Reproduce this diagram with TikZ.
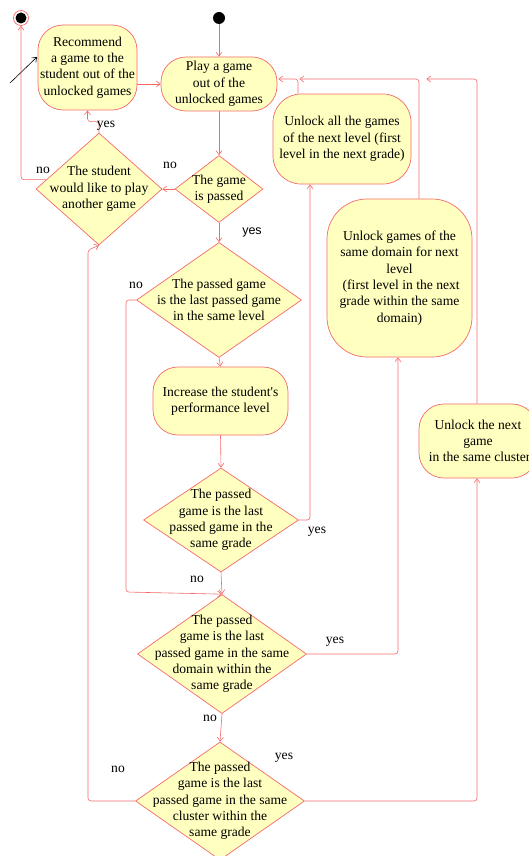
\documentclass[tikz,border=0pt]{standalone}
\usepackage{fontspec}
\setmainfont{Liberation Serif}
\newfontfamily\lsans{Liberation Sans}
\usetikzlibrary{shapes.geometric,arrows.meta,calc}
\definecolor{lred}{RGB}{245,105,105}
\definecolor{lyel}{RGB}{255,255,192}
\begin{document}
\begin{tikzpicture}[x=1pt,y=-1pt,
  every node/.style={font=\fontsize{13.6}{16.3}\selectfont},
  act/.style={draw=lred,fill=lyel,line width=0.7pt,align=center,inner sep=0pt},
  dia/.style={draw=lred,fill=lyel,line width=0.7pt,diamond,inner sep=0pt,minimum width=#1},
  dtext/.style={align=center,inner sep=0pt},
  arr/.style={draw=lred,line width=0.6pt,-{Straight Barb[length=4pt,width=6pt]},rounded corners=3pt},
  lab/.style={inner sep=0pt}]
\useasboundingbox (0,0) rectangle (529,856);
% start / end
\node[circle,fill=black,minimum size=12pt,inner sep=0pt] (start) at (219,18) {};
\node[circle,draw=lred,fill=white,line width=0.7pt,minimum size=15pt,inner sep=0pt] (endst) at (21,18) {};
\fill[black] (endst.center) circle (5.5pt);
% activities
\node[act,rounded corners=25pt,minimum width=99pt,minimum height=85pt] (rec) at (87.5,67.5)
  {Recommend\\a game to the\\student out of the\\unlocked games};
\node[act,rounded corners=25pt,minimum width=116pt,minimum height=54pt] (play) at (219,84)
  {Play a game\\out of the\\unlocked games};
\node[act,rounded corners=28pt,minimum width=138pt,minimum height=90pt] (uall) at (342,139)
  {Unlock all the games\\of the next level (first\\level in the next grade)};
\node[act,rounded corners=40pt,minimum width=145pt,minimum height=158pt] (udom) at (399.5,278)
  {Unlock games of the\\same domain for next\\level\\ \ (first level in the next\\grade within the same\\domain)};
\node[act,rounded corners=25pt,minimum width=118pt,minimum height=74pt] (uclu) at (478,441)
  {Unlock the next\\game\\ \ in the same cluster};
\node[act,rounded corners=25pt,minimum width=135pt,minimum height=68pt] (inc) at (220.5,401)
  {Increase the student\textquotesingle s\\performance level};
% decisions
\node[dia=88pt,minimum height=67pt] (dgame) at (219,189) {};
\node[dtext] (tgame) at (dgame) {The game\\is passed};
\node[dia=126pt,minimum height=112pt] (dstud) at (99,189) {};
\node[dtext] (tstud) at (dstud) {The student\\would like to play\\another game};
\node[dia=165pt,minimum height=115pt] (d3) at (219,300) {};
\node[dtext] (t3) at (d3) {The passed game\\is the last passed game\\in the same level};
\node[dia=155pt,minimum height=104pt] (d4) at (221,520) {};
\node[dtext] (t4) at (d4) {The passed\\game is the last\\passed game in the\\same grade};
\node[dia=169pt,minimum height=119pt] (d5) at (222,654) {};
\node[dtext] (t5) at (d5) {The passed\\game is the last\\passed game in the same\\domain within the\\same grade};
\node[dia=169pt,minimum height=118pt] (d6) at (220,801) {};
\node[dtext] (t6) at (d6) {The passed\\game is the last\\passed game in the same\\cluster within the\\same grade};
% coordinates for bends
\coordinate (c1) at (88,250);
\coordinate (c2) at (126,592);
\coordinate (free) at (10,83);
\coordinate (freeend) at (37,57);
% connectors
\draw[-{Straight Barb[length=4pt,width=6pt]},line width=0.6pt,black] (free) -- (freeend);
\draw[arr] (start) -- (play.north);
\draw[arr] (rec.east |- play.west) -- (play.west);
\draw[arr] (play.south) -- (dgame.north);
\draw[arr] (dgame.west) -- (dstud.east);
\draw[arr] (dstud.north) -- ++(0,-11) -| (rec.south);
\draw[arr] (dstud.170) -| (endst.south);
\draw[arr] (dgame.south) -- (d3.north);
\draw[arr] (d3.west) -| (c2) -- (d5.north);
\draw[arr] (d3.south) -- (inc.north);
\draw[arr] (inc.south) -- (d4.north);
\draw[arr] (d4.south) -- (d5.north);
\draw[arr] (d4.east) -| ($(uall.south)+(-32,0)$);
\draw[arr] ($(uall.north)+(-44,0)$) |- ($(play.east)+(1,-5)$);
\draw[arr] ($(udom.north)+(19.5,0)$) |- ($(play.east)+(22,-5)$);
\draw[arr] ($(uclu.north)+(-1,0)$) |- ($(play.east)+(149,-5)$);
\draw[arr] (d5.east) -| ($(udom.south)+(-1.5,0)$);
\draw[arr] (d5.south) -- (d6.north);
\draw[arr] (d6.east) -| ($(uclu.south)+(-1,0)$);
\draw[arr] (d6.west) -| (c1) -- (dstud.south);
% labels
\node[lab] (l1) at (170,165) {no};
\node[lab] (l2) at (43,170) {no};
\node[lab] (l3) at (106,126) {yes};
\node[lab,font=\lsans\fontsize{12.5}{15}\selectfont] (l4) at (252,232) {yes};
\node[lab] (l5) at (136,285) {no};
\node[lab] (l6) at (317,532) {yes};
\node[lab] (l7) at (197,579) {no};
\node[lab] (l8) at (335,642) {yes};
\node[lab] (l9) at (210,718) {no};
\node[lab] (l10) at (284,758) {yes};
\node[lab] (l11) at (118,769) {no};
\end{tikzpicture}
\end{document}
